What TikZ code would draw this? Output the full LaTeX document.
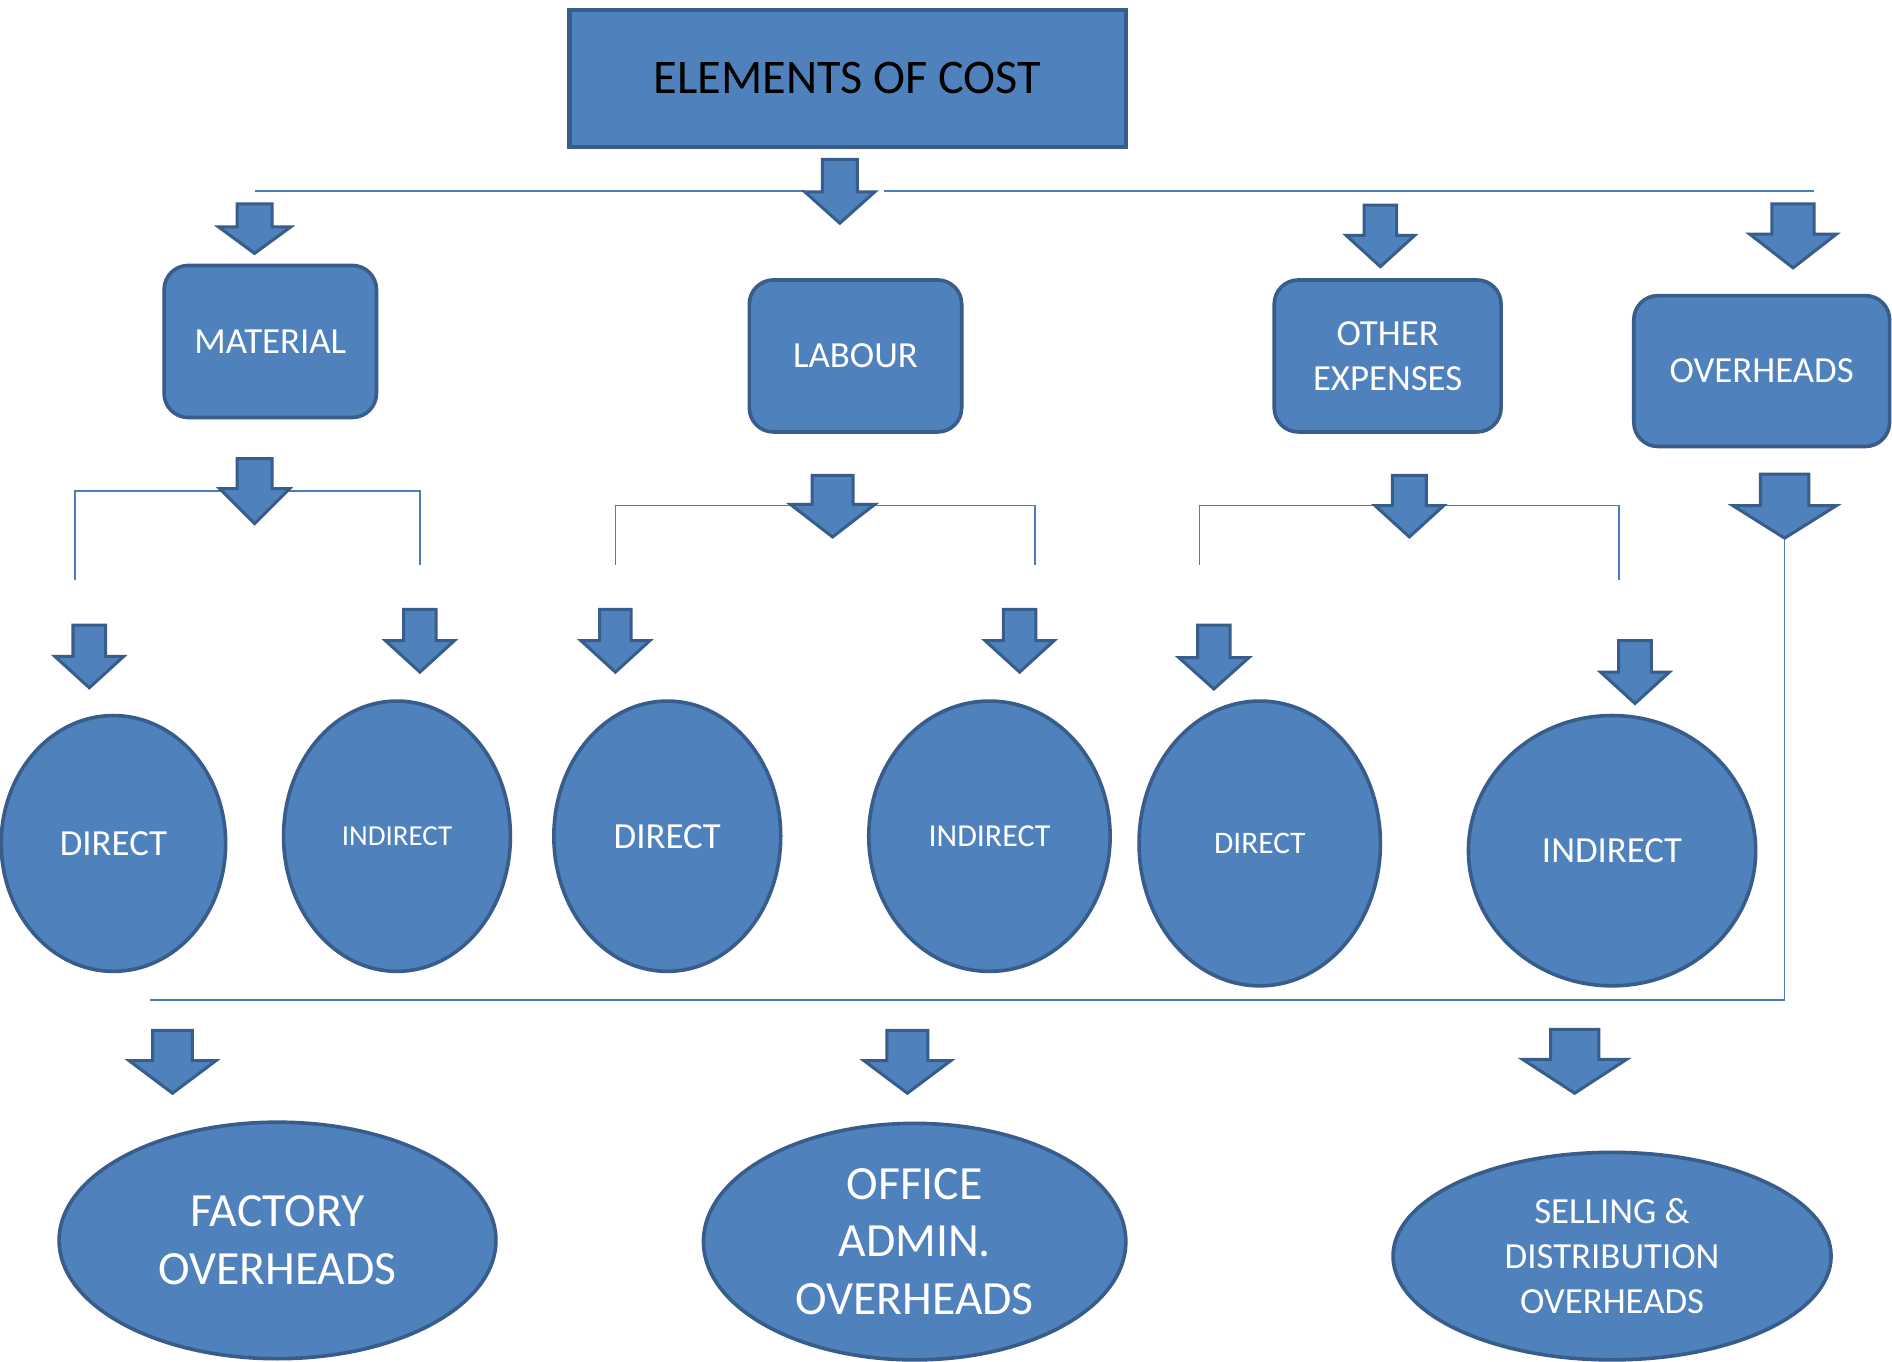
\documentclass[tikz,border=0pt]{standalone}
\usepackage{fontspec}
\setmainfont{Carlito}
\usetikzlibrary{shapes.geometric}
\definecolor{fillb}{HTML}{4F81BD}
\definecolor{edgeb}{HTML}{385D8A}
\definecolor{lineb}{HTML}{4A7EBB}
\tikzset{
  topbox/.style={draw=edgeb, fill=fillb, line width=3.5pt, text=black, inner sep=0pt,
    font=\fontsize{40}{48}\selectfont},
  rbox/.style={draw=edgeb, fill=fillb, line width=3pt, rounded corners=20pt, text=white,
    align=center, inner sep=0pt, font=\fontsize{30.5}{37}\selectfont},
  ell/.style={ellipse, draw=edgeb, fill=fillb, line width=3pt, text=white, align=center, inner sep=0pt},
  conn/.style={draw=lineb, line width=1.4pt},
  arrowshape/.style={draw=edgeb, fill=fillb, line width=2.5pt, line join=miter},
}
% name, cx, top, headY, tip, shaft width, head width
\newcommand{\blockarrow}[7]{%
  \draw[arrowshape] (#2-#6/2,#3) -- (#2+#6/2,#3) -- (#2+#6/2,#4) -- (#2+#7/2,#4) -- (#2,#5)
    -- (#2-#7/2,#4) -- (#2-#6/2,#4) -- cycle;
  \coordinate (#1) at (#2,#5);
}
\begin{document}
\begin{tikzpicture}[x=1pt,y=-1pt]
\useasboundingbox (0,0) rectangle (1568,1128);
\clip (0,0) rectangle (1568,1128);
\fill[white] (0,0) rectangle (1568,1128);

% top box
\node[topbox, minimum width=461pt, minimum height=114pt] (cost) at (702.5,65) {ELEMENTS OF COST};

% connector lines
\coordinate (tl1) at (211,158); \coordinate (tl2) at (667,158);
\coordinate (tr1) at (733,158); \coordinate (tr2) at (1503,158);
\draw[conn] (tl1) -- (tl2);
\draw[conn] (tr1) -- (tr2);

\coordinate (mA) at (62,481); \coordinate (mB) at (348,468);
\draw[conn] (mA) |- (205,407) -| (mB);
\coordinate (lA) at (510,468); \coordinate (lB) at (858,468);
\draw[conn] (lA) |- (690,419) -| (lB);
\coordinate (oA) at (994,468); \coordinate (oB) at (1342,481);
\draw[conn] (oA) |- (1168,419) -| (oB);
\coordinate (bl) at (124,829);
\coordinate (oh) at (1479,446);
\draw[conn] (oh) |- (bl);

% block arrows
\blockarrow{a0}{696}{132}{159}{185}{29}{58}
\blockarrow{a1}{211}{169}{188}{210}{29}{60}
\blockarrow{a2}{1144}{170}{195}{221}{27}{57}
\blockarrow{a3}{1486}{169}{194}{222}{35}{72}
\blockarrow{a4}{211}{380}{405}{434}{29}{58}
\blockarrow{a5}{690}{394}{418}{445}{34}{70}
\blockarrow{a6}{1168}{394}{419}{445}{28}{57}
\blockarrow{a7}{1479}{393}{419}{446}{40}{86}
\blockarrow{a8}{74}{518}{544}{570}{27}{57}
\blockarrow{a9}{348}{505}{531}{557}{27}{57}
\blockarrow{a10}{510}{505}{531}{557}{26}{57}
\blockarrow{a11}{845}{505}{531}{557}{27}{57}
\blockarrow{a12}{1006}{518}{545}{571}{27}{58}
\blockarrow{a13}{1355}{531}{557}{583}{27}{57}
\blockarrow{a14}{143}{854}{879}{906}{33}{72}
\blockarrow{a15}{752}{854}{879}{906}{34}{72}
\blockarrow{a16}{1305}{853}{878}{906}{40}{86}

% level 2 boxes
\node[rbox, minimum width=176pt, minimum height=126pt] (mat) at (224,283) {MATERIAL};
\node[rbox, minimum width=176pt, minimum height=126pt] (lab) at (709,295) {LABOUR};
\node[rbox, minimum width=188pt, minimum height=126pt] (oth) at (1150,295) {OTHER\\EXPENSES};
\node[rbox, minimum width=212pt, minimum height=125pt] (ovh) at (1460,307.5) {OVERHEADS};

% level 3 ellipses
\node[ell, minimum width=186pt, minimum height=212pt, font=\fontsize{30.5}{37}\selectfont] (md) at (94,699) {DIRECT};
\node[ell, minimum width=188pt, minimum height=224pt, font=\fontsize{24}{29}\selectfont] (mi) at (329,693) {INDIRECT};
\node[ell, minimum width=188pt, minimum height=224pt, font=\fontsize{30.5}{37}\selectfont] (ld) at (553,693) {DIRECT};
\node[ell, minimum width=200pt, minimum height=224pt, font=\fontsize{26.5}{32}\selectfont] (li) at (820,693) {INDIRECT};
\node[ell, minimum width=200pt, minimum height=236pt, font=\fontsize{26}{32}\selectfont] (od) at (1044,699) {DIRECT};
\node[ell, minimum width=238pt, minimum height=224pt, font=\fontsize{30.5}{37}\selectfont] (oi) at (1336,705) {INDIRECT};

% bottom ellipses
\node[ell, minimum width=362pt, minimum height=196pt, font=\fontsize{39.5}{48}\selectfont] (fo) at (230,1028) {FACTORY\\OVERHEADS};
\node[ell, minimum width=350pt, minimum height=196pt, font=\fontsize{39.5}{47.5}\selectfont] (oa) at (758,1029) {OFFICE\\ADMIN.\\OVERHEADS};
\node[ell, minimum width=363pt, minimum height=172pt, font=\fontsize{30.5}{37.5}\selectfont] (sd) at (1336,1041) {SELLING \&\\DISTRIBUTION\\OVERHEADS};
\end{tikzpicture}
\end{document}
